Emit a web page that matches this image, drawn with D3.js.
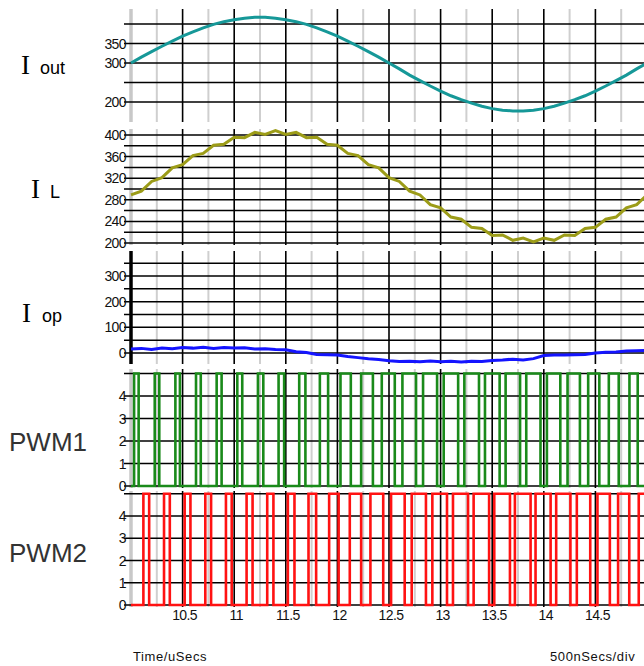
<!DOCTYPE html>
<html>
<head>
<meta charset="utf-8">
<script src="https://cdn.jsdelivr.net/npm/d3@7"></script>
<style>
  body { margin: 0; background: #fff; }
  svg { display: block; }
  .tick-label { font-family: "Liberation Sans", Arial, sans-serif; font-size: 14px; letter-spacing: -0.6px; fill: #111; }
  .foot { font-family: "Liberation Sans", Arial, sans-serif; font-size: 13px; letter-spacing: 0.6px; fill: #111; }
</style>
</head>
<body>
<svg width="644" height="666"></svg>
<script>
// ---- data ----
let timeTicks = [10.5, 11, 11.5, 12, 12.5, 13, 13.5, 14, 14.5];

let ioutLevels = [200, 250, 300, 350, 400];
let ioutLabels = [200, 300, 350];
let ilLevels = [200, 220, 240, 260, 280, 300, 320, 340, 360, 380, 400];
let ilLabels = [200, 240, 280, 320, 360, 400];
let iopLevels = [0, 50, 100, 150, 200, 250, 300, 350];
let iopLabels = [0, 100, 200, 300];
let pwmLevels = [0, 1, 2, 3, 4, 5];
let pwmLabels = [0, 1, 2, 3, 4];

// analog traces sampled every 0.1 uS from 10.0 to 15.0
let iout = [300, 315, 329, 343, 356, 369, 380, 390, 399, 406, 411, 415, 417, 417, 415, 411, 406,
  399, 390, 380, 369, 356, 343, 329, 315, 300, 285, 269, 255, 241, 228, 216, 206, 197, 189, 183,
  179, 177, 177, 179, 183, 189, 197, 206, 216, 228, 241, 255, 269, 285, 300];
let iL = [289, 296, 314, 321, 339, 345, 362, 366, 381, 383, 396, 395, 405, 401, 408, 401, 405,
  395, 396, 383, 381, 366, 362, 345, 339, 321, 314, 296, 289, 271, 265, 248, 244, 229, 227, 214,
  215, 205, 209, 202, 209, 205, 215, 214, 227, 229, 244, 248, 265, 271, 289];
let iop = [16, 18, 14, 19, 17, 21, 19, 22, 18, 21, 19, 20, 16, 17, 14, 13, 5, 2, -6, -7,
  -8, -14, -18, -22, -25, -30, -33, -32, -34, -31, -34, -32, -35, -32, -33, -29, -27, -24, -27, -22,
  -10, -8, -8, -7, -6, 0, 3, 4, 8, 9, 10];

// PWM pulses as [rise, fall] in uS, high level 5
let pwm1Pulses = [[10.03, 10.074], [10.23, 10.274], [10.43, 10.474], [10.63, 10.676], [10.83, 10.878],
  [11.03, 11.078], [11.23, 11.282], [11.43, 11.484], [11.63, 11.69], [11.83, 11.91],
  [12.03, 12.13], [12.23, 12.344], [12.43, 12.556], [12.63, 12.762], [12.83, 12.966],
  [13.03, 13.17], [13.23, 13.372], [13.43, 13.572], [13.63, 13.77], [13.83, 13.968],
  [14.03, 14.16], [14.23, 14.35], [14.43, 14.538], [14.63, 14.726], [14.83, 14.91]];
let pwm2Pulses = [[10.12, 10.176], [10.32, 10.376], [10.52, 10.576], [10.72, 10.776], [10.92, 10.976],
  [11.12, 11.178], [11.32, 11.38], [11.52, 11.584], [11.72, 11.794], [11.92, 12.012],
  [12.12, 12.23], [12.32, 12.444], [12.52, 12.652], [12.72, 12.858], [12.92, 13.062],
  [13.12, 13.266], [13.32, 13.47], [13.52, 13.672], [13.72, 13.872], [13.92, 14.066],
  [14.12, 14.258], [14.32, 14.45], [14.52, 14.64], [14.72, 14.828], [14.92, 15.016]];
let pwmHigh = 5;

// ---- drawing ----
let svg = d3.select("svg");
let x = d3.scaleLinear().domain([10, 15]).range([131, 647]);
let sampleTimes = d3.range(0, iout.length).map(i => 10 + i * 0.1);

let panels = [
  { top: 9,   bottom: 122, y: d3.scaleLinear().domain([200, 400]).range([102, 24]),  levels: ioutLevels, labels: ioutLabels, edge: "#c8c8c8" },
  { top: 129, bottom: 245, y: d3.scaleLinear().domain([200, 400]).range([243, 135]), levels: ilLevels,   labels: ilLabels,   edge: "#c8c8c8" },
  { top: 251, bottom: 364, y: d3.scaleLinear().domain([0, 300]).range([353, 276]),   levels: iopLevels,  labels: iopLabels,  edge: "#000" },
  { top: 369, bottom: 488, y: d3.scaleLinear().domain([0, 4]).range([486, 396]),     levels: pwmLevels,  labels: pwmLabels,  edge: "#c8c8c8" },
  { top: 491, bottom: 607, y: d3.scaleLinear().domain([0, 4]).range([605, 516]),     levels: pwmLevels,  labels: pwmLabels,  edge: "#c8c8c8" }
];

let quarterLines = d3.range(10.25, 15, 0.5);   // light grey
let halfLines = d3.range(10.5, 15, 0.5);       // black

panels.forEach(function(p) {
  let g = svg.append("g");

  g.selectAll("line.minor").data(quarterLines).enter().append("line")
    .attr("x1", d => x(d)).attr("x2", d => x(d))
    .attr("y1", p.top).attr("y2", p.bottom)
    .attr("stroke", "#cfcfcf").attr("stroke-width", 2);

  g.append("line")
    .attr("x1", x(10)).attr("x2", x(10))
    .attr("y1", p.top).attr("y2", p.bottom)
    .attr("stroke", p.edge).attr("stroke-width", 3.5);

  g.selectAll("line.level").data(p.levels).enter().append("line")
    .attr("x1", 124).attr("x2", 644)
    .attr("y1", d => p.y(d)).attr("y2", d => p.y(d))
    .attr("stroke", "#000").attr("stroke-width", 1.5);

  g.selectAll("line.major").data(halfLines).enter().append("line")
    .attr("x1", d => x(d)).attr("x2", d => x(d))
    .attr("y1", p.top).attr("y2", p.bottom)
    .attr("stroke", "#000").attr("stroke-width", 1.6);

  g.selectAll("text").data(p.labels).enter().append("text")
    .attr("class", "tick-label")
    .attr("x", 126).attr("y", d => p.y(d))
    .attr("dy", "0.36em")
    .attr("text-anchor", "end")
    .text(d => d);
});

// analog traces
let traces = [
  { values: iout, panel: panels[0], color: "#169898" },
  { values: iL,   panel: panels[1], color: "#9c9c18" },
  { values: iop,  panel: panels[2], color: "#1414ff" }
];
traces.forEach(function(tr) {
  let line = d3.line()
    .x((d, i) => x(sampleTimes[i]))
    .y(d => tr.panel.y(d));
  svg.append("path")
    .datum(tr.values)
    .attr("d", line)
    .attr("fill", "none")
    .attr("stroke", tr.color)
    .attr("stroke-width", 3)
    .attr("stroke-linejoin", "miter");
});

// PWM step traces
function pulsePoints(pulses) {
  let pts = [[10, 0]];
  pulses.forEach(function(pl) {
    pts.push([pl[0], 0], [pl[0], pwmHigh], [pl[1], pwmHigh], [pl[1], 0]);
  });
  pts.push([15.2, 0]);
  return pts;
}
[{ pulses: pwm1Pulses, panel: panels[3], color: "#1a8a1a" },
 { pulses: pwm2Pulses, panel: panels[4], color: "#ff1212" }].forEach(function(w) {
  let line = d3.line()
    .x(d => x(d[0]))
    .y(d => w.panel.y(d[1]));
  svg.append("path")
    .datum(pulsePoints(w.pulses))
    .attr("d", line)
    .attr("fill", "none")
    .attr("stroke", w.color)
    .attr("stroke-width", 2.6)
    .attr("stroke-linejoin", "miter");
});

// time axis labels
svg.selectAll("text.time").data(timeTicks).enter().append("text")
  .attr("class", "tick-label")
  .attr("x", d => x(d) + 2).attr("y", 620)
  .attr("text-anchor", "middle")
  .text(d => d);

svg.append("text").attr("class", "foot").attr("x", 133).attr("y", 661).text("Time/uSecs");
svg.append("text").attr("class", "foot").attr("x", 550).attr("y", 661).text("500nSecs/div");

// channel names
let serif = "'Liberation Serif', 'Times New Roman', serif";
let sans = "'Liberation Sans', Arial, sans-serif";
[{ x: 21, y: 74, sub: "out", sx: 40 },
 { x: 31, y: 198, sub: "L", sx: 50 },
 { x: 22, y: 322, sub: "op", sx: 42 }].forEach(function(n) {
  let t = svg.append("text").attr("x", n.x).attr("y", n.y).attr("fill", "#000");
  t.append("tspan").attr("font-family", serif).attr("font-size", 27).text("I");
  t.append("tspan").attr("x", n.sx).attr("font-family", sans).attr("font-size", 18).text(n.sub);
});

svg.append("text").attr("x", 9).attr("y", 451)
  .attr("font-family", sans).attr("font-size", 26).attr("fill", "#333")
  .text("PWM1");
svg.append("text").attr("x", 9).attr("y", 562)
  .attr("font-family", sans).attr("font-size", 26).attr("fill", "#333")
  .text("PWM2");
</script>
</body>
</html>
